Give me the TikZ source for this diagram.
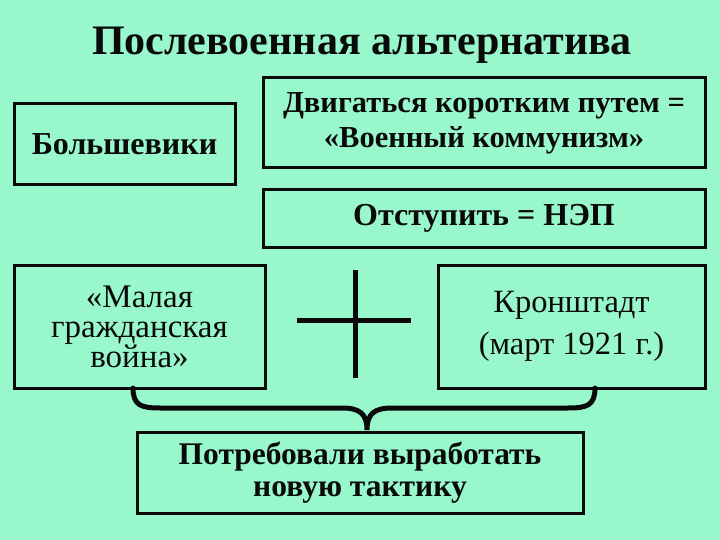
\documentclass[tikz,border=0pt]{standalone}
\usepackage{fontspec}
\setmainfont{Liberation Serif}
\definecolor{bgmint}{RGB}{153,247,204}
\definecolor{ink}{RGB}{10,10,10}
\begin{document}
\begin{tikzpicture}[x=1pt,y=-1pt,
  box/.style={draw=ink,line width=3pt,rectangle,inner sep=0pt,align=center,text=ink},
  heavy/.style={draw=ink,line width=5pt}]
\fill[bgmint] (0,0) rectangle (720,540);
\useasboundingbox (0,0) rectangle (720,540);
\node[text=ink,font=\fontsize{42}{46}\selectfont\bfseries] (title) at (362,45) {Послевоенная альтернатива};
\node[box,font=\fontsize{32}{36}\selectfont\bfseries,minimum width=221pt,minimum height=81pt] (bol) at (124.5,144.5) {Большевики};
\node[box,font=\fontsize{30.5}{35}\selectfont\bfseries,minimum width=442pt,minimum height=90pt] (dvig) at (484,123) {Двигаться коротким путем =\\«Военный коммунизм»};
\node[box,font=\fontsize{32}{36}\selectfont\bfseries,minimum width=442pt,minimum height=57pt] (otst) at (484,218.5) {Отступить = НЭП};
\node[box,font=\fontsize{33}{30}\selectfont,minimum width=251pt,minimum height=123pt] (mal) at (139.5,326.5) {«Малая\\гражданская\\война»};
\node[box,font=\fontsize{32.5}{42}\selectfont,minimum width=267pt,minimum height=123pt] (kron) at (571.5,326.5) {Кронштадт\\(март 1921 г.)};
\node[box,font=\fontsize{31.5}{32}\selectfont\bfseries,minimum width=446pt,minimum height=81pt] (potr) at (360,473) {Потребовали выработать\\новую тактику};
% plus sign
\coordinate (pt) at (355,270);
\coordinate (pb) at (355,378);
\coordinate (pl) at (297,320);
\coordinate (pr) at (411,320);
\draw[heavy] (pt) -- (pb);
\draw[heavy] (pl) -- (pr);
% brace
\coordinate (bl) at (133,388);
\coordinate (br) at (595,388);
\coordinate (tip) at (367,430);
\draw[heavy,line cap=round] (bl) .. controls (133,406) and (142,408) .. (160,408) -- (342,408)
  .. controls (360,408) and (367,414) .. (tip)
  .. controls (367,414) and (374,408) .. (392,408) -- (568,408)
  .. controls (586,408) and (595,406) .. (br);
\end{tikzpicture}
\end{document}
